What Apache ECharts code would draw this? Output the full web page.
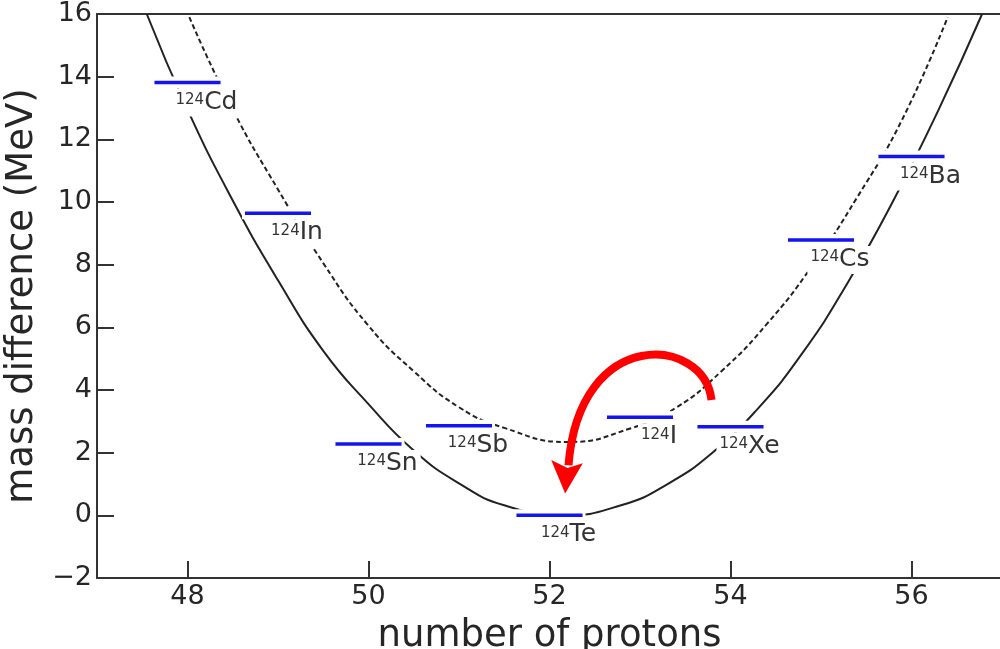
<!DOCTYPE html>
<html>
<head>
<meta charset="utf-8">
<script src="https://cdn.jsdelivr.net/npm/echarts@6/dist/echarts.min.js"></script>
<style>
html,body{margin:0;padding:0;background:#fff;}
#chart{width:1000px;height:649px;}
</style>
</head>
<body>
<div id="chart"></div>
<script>
// ---- data ----
const protonNumbers = [48, 49, 50, 51, 52, 53, 54, 55, 56];
const elements = ['Cd', 'In', 'Sn', 'Sb', 'Te', 'I', 'Xe', 'Cs', 'Ba'];
const massNumber = '124';
const massDiff = [13.81, 9.64, 2.28, 2.86, 0.0, 3.13, 2.83, 8.79, 11.45];

// even-even (solid) parabola
const evenCurve = [
  [47.55, 16.0], [48.0, 12.95], [48.5, 10.05], [49.0, 7.5], [49.5, 5.25],
  [50.0, 3.55], [50.5, 2.07], [51.0, 1.02], [51.5, 0.32], [52.16, 0.0],
  [52.8, 0.33], [53.3, 0.99], [53.8, 2.0], [54.3, 3.4], [54.8, 5.2],
  [55.3, 7.45], [55.8, 10.05], [56.3, 12.95], [56.78, 16.0]
];
// odd-odd (dashed) parabola
const oddCurve = [
  [48.02, 15.9], [48.5, 12.95], [49.0, 10.4], [49.5, 8.05], [50.0, 6.05],
  [50.5, 4.6], [51.0, 3.45], [51.5, 2.79], [52.2, 2.34], [52.9, 2.78],
  [53.4, 3.44], [53.9, 4.6], [54.4, 6.1], [54.9, 7.95], [55.4, 10.15],
  [55.9, 12.65], [56.4, 15.9]
];

// red curved arrow (bezier control points and head, in data units)
const arrowPath = [[53.790, 3.68], [53.713, 5.72], [52.331, 6.08], [52.210, 1.60]];
const arrowHead = [[52.019, 1.765], [52.173, 0.70], [52.368, 1.66], [52.199, 1.51]];

const xTicks = [48, 50, 52, 54, 56];

// ---- chart ----
const FONT = 'DejaVu Sans';
const AXIS = '#333333';
const TXT = '#262626';

const measureCtx = document.createElement('canvas').getContext('2d');
function textWidth(str, size) {
  measureCtx.font = size + 'px "' + FONT + '"';
  return measureCtx.measureText(str).width;
}

const isoData = protonNumbers.map((z, i) => [z, massDiff[i], i]);

const chart = echarts.init(document.getElementById('chart'), null, {renderer: 'canvas'});

chart.setOption({
  animation: false,
  backgroundColor: '#ffffff',
  grid: {left: 97, top: 14, width: 905, height: 564, outerBoundsMode: 'none', containLabel: false},
  xAxis: [{
    type: 'value', min: 47, max: 57,
    name: 'number of protons', nameLocation: 'middle', nameGap: 40,
    nameTextStyle: {fontSize: 37, fontFamily: FONT, color: TXT},
    axisLine: {show: true, onZero: false, lineStyle: {color: AXIS, width: 2}},
    axisTick: {show: true, inside: true, length: 17, customValues: xTicks, lineStyle: {color: AXIS, width: 2}},
    axisLabel: {customValues: xTicks, fontSize: 27, fontFamily: FONT, color: TXT, margin: 5},
    splitLine: {show: false}
  }, {
    type: 'value', min: 47, max: 57, position: 'top',
    axisLine: {show: true, onZero: false, lineStyle: {color: AXIS, width: 2}},
    axisTick: {show: false}, axisLabel: {show: false}, splitLine: {show: false}
  }],
  yAxis: {
    type: 'value', min: -2, max: 16, interval: 2,
    name: 'mass difference (MeV)', nameLocation: 'middle', nameGap: 52,
    nameTextStyle: {fontSize: 37, fontFamily: FONT, color: TXT},
    axisLine: {show: true, onZero: false, lineStyle: {color: AXIS, width: 2}},
    axisTick: {show: true, inside: true, length: 17, lineStyle: {color: AXIS, width: 2}},
    axisLabel: {fontSize: 27, fontFamily: FONT, color: TXT, margin: 5,
      formatter: v => String(v).replace('-', '\u2212')},
    splitLine: {show: false}
  },
  series: [{
    type: 'line', data: evenCurve, smooth: 0.5, symbol: 'none', z: 2,
    lineStyle: {color: '#222222', width: 2}
  }, {
    type: 'line', data: oddCurve, smooth: 0.5, symbol: 'none', z: 2,
    lineStyle: {color: '#222222', width: 2, type: [5, 3]}
  }, {
    type: 'custom', z: 5, data: isoData,
    renderItem: function (params, api) {
      const z = api.value(0), e = api.value(1), idx = api.value(2);
      const c = api.coord([z, e]);
      const l = api.coord([z - 0.365, e]);
      const r = api.coord([z + 0.365, e]);
      const el = elements[idx];
      const wSup = textWidth(massNumber, 15);
      const w = wSup + textWidth(el, 25);
      const lx = c[0] + 19 - w / 2;
      return {
        type: 'group',
        children: [{
          type: 'rect',
          shape: {x: l[0] - 3, y: c[1] - 6, width: r[0] - l[0] + 6, height: 12},
          style: {fill: '#ffffff'}
        }, {
          type: 'rect',
          shape: {x: lx - 3, y: c[1] + 6, width: w + 6, height: 28},
          style: {fill: '#ffffff'}
        }, {
          type: 'line',
          shape: {x1: l[0], y1: c[1], x2: r[0], y2: c[1]},
          style: {stroke: '#1414ee', lineWidth: 3.5}
        }, {
          type: 'text',
          style: {
            x: lx, y: c[1] + 10, text: massNumber,
            font: '15px "' + FONT + '"', fill: '#333333',
            align: 'left', verticalAlign: 'top'
          }
        }, {
          type: 'text',
          style: {
            x: lx + wSup, y: c[1] + 7, text: el,
            font: '25px "' + FONT + '"', fill: '#333333',
            align: 'left', verticalAlign: 'top'
          }
        }]
      };
    }
  }, {
    type: 'custom', z: 8, data: [[arrowPath[0][0], arrowPath[0][1]]],
    renderItem: function (params, api) {
      const p = arrowPath.map(q => api.coord(q));
      const h = arrowHead.map(q => api.coord(q));
      return {
        type: 'group',
        children: [{
          type: 'bezierCurve',
          shape: {x1: p[0][0], y1: p[0][1], cpx1: p[1][0], cpy1: p[1][1],
                  cpx2: p[2][0], cpy2: p[2][1], x2: p[3][0], y2: p[3][1]},
          style: {stroke: '#ff0000', lineWidth: 8, fill: null, lineCap: 'butt'}
        }, {
          type: 'polygon',
          shape: {points: h},
          style: {fill: '#ff0000'}
        }]
      };
    }
  }]
});
</script>
</body>
</html>
